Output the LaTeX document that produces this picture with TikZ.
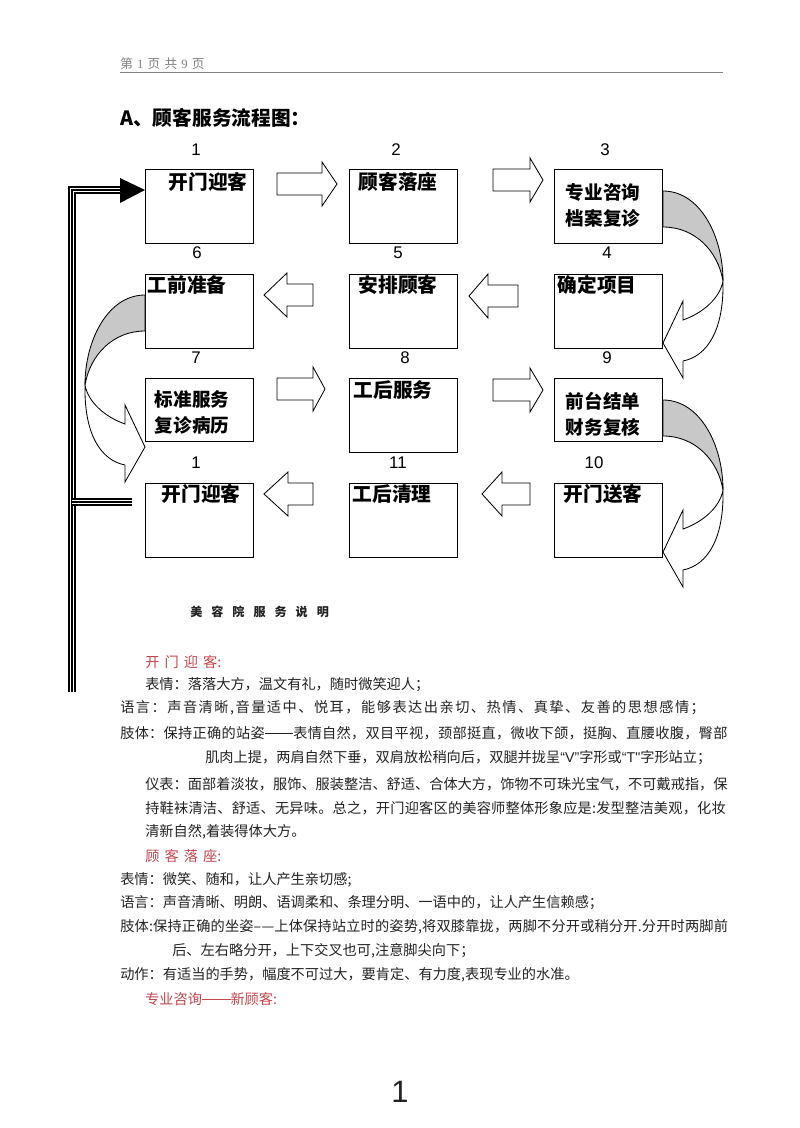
\documentclass[tikz,border=0pt]{standalone}
\usepackage{fontspec}
\setmainfont{Noto Sans CJK SC}
\newfontfamily\latinfont{Liberation Sans}
\newfontfamily\headfont{Liberation Serif}
\usepackage{tikz}
\usetikzlibrary{positioning,calc}

\definecolor{headred}{RGB}{196,70,78}
\definecolor{bandgray}{RGB}{200,200,200}
\definecolor{inkgray}{RGB}{35,35,35}

\newcommand{\letgap}{\hspace{6.4pt}}
\newcommand{\redgap}{\hspace{3.6pt}}
\newcommand{\longdash}{\raisebox{0.34em}{\rule{2em}{0.05em}}}
\newcommand{\spread}[1]{\addfontfeatures{LetterSpace=#1}}

\newcommand{\blockarrow}[4]{%
  \draw[blk] (#1,{#4-11}) -- (#2,{#4-11}) -- (#2,{#4-22}) -- (#3,#4)
    -- (#2,{#4+22}) -- (#2,{#4+11}) -- (#1,{#4+11}) -- cycle;}

\newcommand{\bentarrow}[3]{%
  \draw[bandback] (#1,#2) .. controls ({#1+(#3)*37},#2) and ({#1+(#3)*60},{#2+45}) .. ({#1+(#3)*60},{#2+90})
    .. controls ({#1+(#3)*55},{#2+60}) and ({#1+(#3)*32},{#2+36}) .. (#1,{#2+36}) -- cycle;
  \draw[bandfront] ({#1+(#3)*60},{#2+90}) .. controls ({#1+(#3)*61},{#2+138}) and ({#1+(#3)*45},{#2+165}) .. ({#1+(#3)*20},{#2+170})
    -- ({#1+(#3)*20},{#2+187}) -- (#1,{#2+152}) -- ({#1+(#3)*20},{#2+110}) -- ({#1+(#3)*20},{#2+129})
    .. controls ({#1+(#3)*40},{#2+122}) and ({#1+(#3)*57},{#2+107}) .. ({#1+(#3)*60},{#2+90}) -- cycle;}

\begin{document}
\begin{tikzpicture}[
                    x=0.025cm, y=-0.025cm,
                    stepbox/.style = {draw=black, line width=0.8pt, fill=white, inner sep=0pt,
                                      anchor=north west, minimum width=2.7cm},
                    tall/.style = {minimum height=1.85cm},
                    short/.style = {minimum height=1.575cm},
                    boxlabel/.style = {inner sep=0pt, font=\fontsize{14}{18}\selectfont\bfseries},
                    twolabel/.style = {inner sep=0pt, align=left, font=\fontsize{13.2}{18.5}\selectfont\bfseries},
                    steptag/.style = {inner sep=0pt, font=\latinfont\fontsize{12}{12}\selectfont},
                    blk/.style = {draw=black, line width=0.6pt, fill=white, line join=miter},
                    bandback/.style = {draw=black, line width=0.6pt, fill=bandgray},
                    bandfront/.style = {draw=black, line width=0.6pt, fill=white},
                    triple/.style = {draw=black, line width=5.3pt,
                                     postaction={draw=white, line width=3.1pt},
                                     postaction={draw=black, line width=1.1pt}},
                    bodytext/.style = {anchor=west, inner sep=0pt, text=inkgray, font=\fontsize{10.1}{12}\selectfont},
                    redhead/.style = {anchor=west, inner sep=0pt, text=headred, font=\fontsize{10.1}{12}\selectfont}
                    ]
\fill[white] (0,0) rectangle (800,1128);
\useasboundingbox (0,0) rectangle (800,1128);

\node[anchor=west, inner sep=0pt, text=gray, font=\fontsize{9}{10}\selectfont] (pagehead)
  at (120,64) {第\hspace{3pt}{\headfont 1}\hspace{3pt}页\hspace{3pt}共\hspace{3pt}{\headfont 9}\hspace{3pt}页};
\draw[gray, line width=0.7pt] (120,72) -- (723,72);
\node[anchor=west, inner sep=0pt, font=\fontsize{14}{16}\selectfont\bfseries] (title) at (120,118) {A、顾客服务流程图：};

\node[stepbox,tall]  (b1)  at (145,169) {};
\node[stepbox,tall]  (b2)  at (349,169) {};
\node[stepbox,tall]  (b3)  at (554,169) {};
\node[stepbox,tall]  (b6)  at (145,274) {};
\node[stepbox,tall]  (b5)  at (349,274) {};
\node[stepbox,tall]  (b4)  at (554,274) {};
\node[stepbox,short] (b7)  at (145,378) {};
\node[stepbox,tall]  (b8)  at (349,378) {};
\node[stepbox,short] (b9)  at (554,378) {};
\node[stepbox,tall]  (b1r) at (145,483) {};
\node[stepbox,tall]  (b11) at (349,483) {};
\node[stepbox,tall]  (b10) at (554,483) {};

\node[boxlabel] at (208,182) {开门迎客};
\node[boxlabel] at (398,182) {顾客落座};
\node[twolabel] at (603,205) {专业咨询\\档案复诊};
\node[boxlabel] at (187,285) {工前准备};
\node[boxlabel] at (398,285) {安排顾客};
\node[boxlabel] at (597,285) {确定项目};
\node[twolabel] at (192,412) {标准服务\\复诊病历};
\node[boxlabel] at (393,390) {工后服务};
\node[twolabel] at (603,414) {前台结单\\财务复核};
\node[boxlabel] at (201,494) {开门迎客};
\node[boxlabel] at (392,494) {工后清理};
\node[boxlabel] at (603,494) {开门送客};

\node[steptag] at (196,150) {1};
\node[steptag] at (396,150) {2};
\node[steptag] at (605,150) {3};
\node[steptag] at (197,253) {6};
\node[steptag] at (398,253) {5};
\node[steptag] at (607,253) {4};
\node[steptag] at (196,358) {7};
\node[steptag] at (405,358) {8};
\node[steptag] at (607,358) {9};
\node[steptag] at (196,463) {1};
\node[steptag] at (398,463) {11};
\node[steptag] at (594,463) {10};

\blockarrow{277}{322}{337}{184}
\blockarrow{493}{530}{543}{180}
\blockarrow{518}{488}{469}{296}
\blockarrow{313}{287}{264}{295}
\blockarrow{277}{313}{325}{389}
\blockarrow{493}{530}{543}{390}
\blockarrow{530}{502}{482}{494}
\blockarrow{313}{288}{264}{494}

\bentarrow{663}{191}{1}
\bentarrow{663}{400}{1}
\bentarrow{145}{295}{-1}

\coordinate (loopbot) at (72,692);
\coordinate (headtip) at ([shift={(0,21)}]b1.north west);
\coordinate (headbase) at (120,190);
\coordinate (branchend) at (132,502);
\draw[triple] (loopbot) |- (headbase);
\draw[triple] (loopbot |- branchend) -- (branchend);
\fill[black] (120,178) -- (headtip) -- (120,203) -- cycle;

\node[anchor=west, inner sep=0pt, text=inkgray, font=\fontsize{8.6}{10}\selectfont\bfseries] (notes)
  at (190,612) {美\letgap 容\letgap 院\letgap 服\letgap 务\letgap 说\letgap 明};

\node[redhead]  at (145,662) {开\redgap 门\redgap 迎\redgap 客:};
\node[bodytext] at (145,685) {表情：落落大方，温文有礼，随时微笑迎人；};
\node[bodytext] at (120,708) {\spread{10.5}语言：声音清晰,音量适中、悦耳，能够表达出亲切、热情、真挚、友善的思想感情；};
\node[bodytext] at (120,733) {\spread{2}肢体：保持正确的站姿\longdash 表情自然，双目平视，颈部挺直，微收下颌，挺胸、直腰收腹，臀部};
\node[bodytext] at (205,758) {肌肉上提，两肩自然下垂，双肩放松稍向后，双腿并拢呈{\latinfont “V”}字形或{\latinfont “T"}字形站立；};
\node[bodytext] at (145,784) {仪表：面部着淡妆，服饰、服装整洁、舒适、合体大方，饰物不可珠光宝气，不可戴戒指，保};
\node[bodytext] at (145,808) {\spread{1.5}持鞋袜清洁、舒适、无异味。总之，开门迎客区的美容师整体形象应是:发型整洁美观，化妆};
\node[bodytext] at (145,832) {清新自然,着装得体大方。};
\node[redhead]  at (145,856) {顾\redgap 客\redgap 落\redgap 座:};
\node[bodytext] at (120,880) {表情：微笑、随和，让人产生亲切感;};
\node[bodytext] at (120,903) {语言：声音清晰、明朗、语调柔和、条理分明、一语中的，让人产生信赖感；};
\node[bodytext] at (120,927) {\spread{1.2}肢体:保持正确的坐姿–—上体保持站立时的姿势,将双膝靠拢，两脚不分开或稍分开.分开时两脚前};
\node[bodytext] at (172,951) {后、左右略分开，上下交叉也可,注意脚尖向下；};
\node[bodytext] at (120,975) {动作：有适当的手势，幅度不可过大，要肯定、有力度,表现专业的水准。};
\node[redhead]  at (145,999) {专业咨询\longdash 新顾客:};

\node[inner sep=0pt, text=inkgray, font=\latinfont\fontsize{22}{24}\selectfont] (pageno) at (400,1092) {1};
\end{tikzpicture}
\end{document}
